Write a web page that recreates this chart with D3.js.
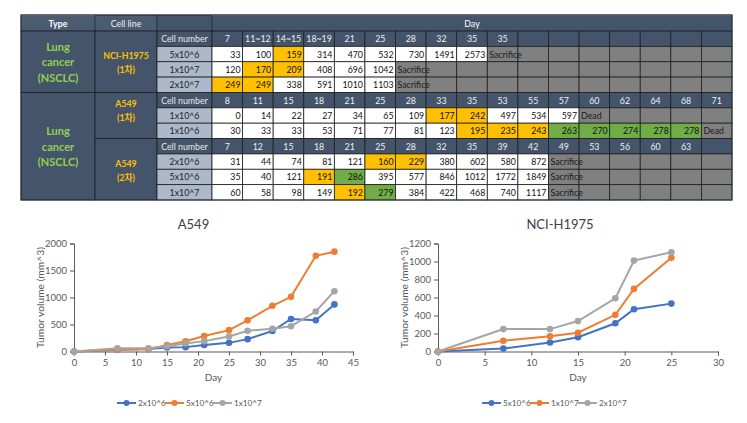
<!DOCTYPE html>
<html><head><meta charset="utf-8">
<script src="https://cdn.jsdelivr.net/npm/d3@7"></script>
<style>
body{margin:0;background:#fff;}
svg{display:block;font-family:Lato,"Open Sans","Noto Sans CJK KR",sans-serif;}
</style></head>
<body><svg id="c" width="747" height="423"></svg>
<script>
// ---------- TABLE DATA ----------
const typeLabel = ["Lung", "cancer", "(NSCLC)"];
const groupNames = [["NCI-H1975", "(1차)"], ["A549", "(1차)"], ["A549", "(2차)"]];
const daysG1 = ["7", "11~12", "14~15", "18~19", "21", "25", "28", "32", "35", "35"];
const daysG2 = ["8", "11", "15", "18", "21", "25", "28", "33", "35", "53", "55", "57", "60", "62", "64", "68", "71"];
const daysG3 = ["7", "12", "15", "18", "21", "25", "28", "32", "35", "39", "42", "49", "53", "56", "60", "63"];
const rowLabelsG1 = ["5x10^6", "1x10^7", "2x10^7"];
const rowLabelsG2 = ["1x10^6", "1x10^6"];
const rowLabelsG3 = ["2x10^6", "5x10^6", "1x10^7"];
const g1r1 = ["33", "100", "159", "314", "470", "532", "730", "1491", "2573", "Sacrifice"];
const g1r2 = ["120", "170", "209", "408", "696", "1042", "Sacrifice"];
const g1r3 = ["249", "249", "338", "591", "1010", "1103", "Sacrifice"];
const g2r1 = ["0", "14", "22", "27", "34", "65", "109", "177", "242", "497", "534", "597", "Dead"];
const g2r2 = ["30", "33", "33", "53", "71", "77", "81", "123", "195", "235", "243", "263", "270", "274", "278", "278", "Dead"];
const g3r1 = ["31", "44", "74", "81", "121", "160", "229", "380", "602", "580", "872", "Sacrifice"];
const g3r2 = ["35", "40", "121", "191", "286", "395", "577", "846", "1012", "1772", "1849", "Sacrifice"];
const g3r3 = ["60", "58", "98", "149", "192", "279", "384", "422", "468", "740", "1117", "Sacrifice"];
// highlight codes: o = orange, g = green
const hl = {
  g1r1: {2: "o"}, g1r2: {1: "o", 2: "o"}, g1r3: {0: "o", 1: "o"},
  g2r1: {7: "o", 8: "o"}, g2r2: {8: "o", 9: "o", 10: "o", 11: "g", 12: "g", 13: "g", 14: "g", 15: "g"},
  g3r1: {5: "o", 6: "o"}, g3r2: {3: "o", 4: "g"}, g3r3: {4: "o", 5: "g"}
};

// ---------- CHART DATA ----------
const a549Days = [0, 7, 12, 15, 18, 21, 25, 28, 32, 35, 39, 42];
const a549Names = ["2x10^6", "5x10^6", "1x10^7"];
const a549S1 = [0, 31, 44, 74, 81, 121, 160, 229, 380, 602, 580, 872];
const a549S2 = [0, 35, 40, 121, 191, 286, 395, 577, 846, 1012, 1772, 1849];
const a549S3 = [0, 60, 58, 98, 149, 192, 279, 384, 422, 468, 740, 1117];
const h1975Days = [0, 7, 12, 15, 19, 21, 25];
const h1975Names = ["5x10^6", "1x10^7", "2x10^7"];
const h1975S1 = [0, 33, 100, 159, 314, 470, 532];
const h1975S2 = [0, 120, 170, 209, 408, 696, 1042];
const h1975S3 = [0, 249, 249, 338, 591, 1010, 1103];
const a549XTicks = [0, 5, 10, 15, 20, 25, 30, 35, 40, 45];
const a549YTicks = [0, 500, 1000, 1500, 2000];
const h1975XTicks = [0, 5, 10, 15, 20, 25, 30];
const h1975YTicks = [0, 200, 400, 600, 800, 1000, 1200];

const svg = d3.select("#c");
const DARK = "#44546A", LIGHT = "#ADB9CA", ORANGE = "#FFC000", GREEN = "#70AD47", GRAY = "#808080", LINE = "#1e1e1e";

// ---------- TABLE ----------
const NDAY = 17;
const dayX = d3.scaleBand().domain(d3.range(NDAY)).range([212, 732]);
const rowY = d3.scaleBand().domain(d3.range(11)).range([31, 200]);
const headTop = 15;
const T = svg.append("g").attr("class", "table");
const fs = 8.8;

function rect(x, y, w, h, fill, stroke) {
  T.append("rect").attr("x", x).attr("y", y).attr("width", w).attr("height", h)
    .attr("fill", fill).attr("stroke", stroke || LINE).attr("stroke-width", 0.8);
}
function txt(x, y, s, opts) {
  opts = opts || {};
  T.append("text").attr("x", x).attr("y", y).text(s)
    .attr("text-anchor", opts.anchor || "middle").attr("dominant-baseline", "central")
    .attr("font-size", opts.size || fs).attr("font-weight", opts.weight || "normal")
    .attr("fill", opts.fill || "#111");
}
// header row
rect(21, headTop, 74, rowY(0) - headTop, "#4B5B71", "#2a3442");
rect(95, headTop, 62, rowY(0) - headTop, "#4B5B71", "#2a3442");
rect(157, headTop, 55, rowY(0) - headTop, DARK, "#2a3442");
rect(212, headTop, 732 - 212, rowY(0) - headTop, DARK, "#2a3442");
T.append("line").attr("x1", 21).attr("x2", 95).attr("y1", headTop).attr("y2", headTop).attr("stroke", "#9aa6b6").attr("stroke-width", 1.5);
T.append("line").attr("x1", 212).attr("x2", 732).attr("y1", headTop).attr("y2", headTop).attr("stroke", "#8c99ab").attr("stroke-width", 1.5);
const hy = (headTop + rowY(0)) / 2;
txt(58, hy, "Type", {fill: "#fff", weight: "bold"});
txt(126, hy, "Cell line", {fill: "#f2f2f2"});
txt(472, hy, "Day", {fill: "#fff"});

const groups = [
  {start: 0, days: daysG1, labels: rowLabelsG1, rows: [g1r1, g1r2, g1r3], keys: ["g1r1", "g1r2", "g1r3"]},
  {start: 4, days: daysG2, labels: rowLabelsG2, rows: [g2r1, g2r2], keys: ["g2r1", "g2r2"]},
  {start: 7, days: daysG3, labels: rowLabelsG3, rows: [g3r1, g3r2, g3r3], keys: ["g3r1", "g3r2", "g3r3"]}
];
const rh = rowY.bandwidth();
// Type cells
[[0, 4], [4, 11]].forEach(([a, b]) => {
  const y0 = rowY(a), y1 = b < 11 ? rowY(b) : 200;
  rect(21, y0, 74, y1 - y0, DARK);
  const cy = (y0 + y1) / 2;
  typeLabel.forEach((s, i) => txt(58, cy + (i - 1) * 15.5, s, {fill: "#92D050", weight: "bold", size: 11}));
});
groups.forEach((g, gi) => {
  const nRows = g.rows.length + 1;
  const y0 = rowY(g.start), y1 = y0 + nRows * rh;
  rect(95, y0, 62, y1 - y0, DARK);
  const cy = gi === 1 ? y0 + 18 : (y0 + y1) / 2 + 1;
  groupNames[gi].forEach((s, i) => txt(126, cy + (i - 0.5) * 14, s, {fill: "#FFC000", weight: "bold", size: 8.8}));
  // cell number row
  const yc = rowY(g.start);
  rect(157, yc, 55, rh, DARK);
  txt(184.5, yc + rh / 2, "Cell number", {fill: "#e8e8e8"});
  d3.range(NDAY).forEach(c => {
    rect(dayX(c), yc, dayX.bandwidth(), rh, DARK);
    if (g.days[c] !== undefined) txt(dayX(c) + dayX.bandwidth() / 2, yc + rh / 2, g.days[c], {fill: "#f0f0f0"});
  });
  g.rows.forEach((vals, ri) => {
    const y = rowY(g.start + 1 + ri);
    rect(157, y, 55, rh, LIGHT);
    txt(184.5, y + rh / 2, g.labels[ri], {fill: "#222"});
    const h = hl[g.keys[ri]];
    const endIdx = vals.length - 1; // last is Sacrifice/Dead
    d3.range(NDAY).forEach(c => {
      let fill;
      if (c >= endIdx) fill = GRAY;
      else fill = h[c] === "o" ? ORANGE : h[c] === "g" ? GREEN : "#fff";
      rect(dayX(c), y, dayX.bandwidth(), rh, fill);
    });
    vals.forEach((v, c) => {
      if (c === endIdx) txt(dayX(c) + 2, y + rh / 2, v, {anchor: "start", fill: "#1a1a1a"});
      else txt(dayX(c) + dayX.bandwidth() - 2, y + rh / 2, v, {anchor: "end", fill: "#111"});
    });
  });
});
// outer frame
T.append("rect").attr("x", 21).attr("y", headTop).attr("width", 711).attr("height", 200 - headTop)
  .attr("fill", "none").attr("stroke", "#2a3442").attr("stroke-width", 1);

// ---------- CHARTS ----------
const COLORS = ["#4472C4", "#ED7D31", "#A5A5A5"];
function chart(cfg) {
  const G = svg.append("g");
  const x = d3.scaleLinear().domain([cfg.xTicks[0], cfg.xTicks[cfg.xTicks.length - 1]]).range([cfg.x0, cfg.x1]);
  const y = d3.scaleLinear().domain([cfg.yTicks[0], cfg.yTicks[cfg.yTicks.length - 1]]).range([351.5, 243.5]);
  const ax = G.append("g").attr("transform", `translate(0,${y(0)})`)
    .call(d3.axisBottom(x).tickValues(cfg.xTicks).tickSize(4).tickPadding(4).tickFormat(d3.format("d")));
  const ay = G.append("g").attr("transform", `translate(${cfg.x0},0)`)
    .call(d3.axisLeft(y).tickValues(cfg.yTicks).tickSize(4).tickPadding(3).tickFormat(d3.format("d")));
  [ax, ay].forEach(a => {
    a.select(".domain").attr("stroke", "#595959").attr("stroke-width", 1);
    a.selectAll(".tick line").attr("stroke", "#595959");
    a.selectAll("text").attr("fill", "#595959").attr("font-size", 9.5).attr("font-family", "Lato,sans-serif");
  });
  const line = d3.line().x((d, i) => x(cfg.days[i])).y(d => y(d));
  cfg.series.forEach((s, k) => {
    G.append("path").attr("d", line(s)).attr("fill", "none").attr("stroke", COLORS[k]).attr("stroke-width", 2);
    G.selectAll(null).data(s).enter().append("circle")
      .attr("cx", (d, i) => x(cfg.days[i])).attr("cy", d => y(d)).attr("r", 3.3).attr("fill", COLORS[k]);
  });
  const cx = (cfg.x0 + cfg.x1) / 2;
  G.append("text").attr("x", cx + cfg.titleShift).attr("y", 229).attr("text-anchor", "middle")
    .attr("font-size", 13).attr("fill", "#404040").text(cfg.title);
  G.append("text").attr("x", cx).attr("y", 381).attr("text-anchor", "middle")
    .attr("font-size", 10).attr("fill", "#595959").text("Day");
  G.append("text").attr("transform", `translate(${cfg.x0 - 34},${(243.5 + 351.5) / 2}) rotate(-90)`)
    .attr("text-anchor", "middle").attr("dominant-baseline", "central")
    .attr("font-size", 10.3).attr("fill", "#595959").text("Tumor volume (mm^3)");
  // legend
  const lg = G.append("g");
  cfg.names.forEach((n, k) => {
    const lx = cfg.legendX + k * 48;
    lg.append("line").attr("x1", lx).attr("x2", lx + 19).attr("y1", 403).attr("y2", 403)
      .attr("stroke", COLORS[k]).attr("stroke-width", 2);
    lg.append("circle").attr("cx", lx + 9.5).attr("cy", 403).attr("r", 3).attr("fill", COLORS[k]);
    lg.append("text").attr("x", lx + 21).attr("y", 403).attr("dominant-baseline", "central")
      .attr("font-size", 8.2).attr("fill", "#595959").text(n);
  });
}
chart({title: "A549", x0: 74, x1: 353, xTicks: a549XTicks, yTicks: a549YTicks, days: a549Days,
  series: [a549S1, a549S2, a549S3], names: a549Names, legendX: 117, titleShift: -20});
chart({title: "NCI-H1975", x0: 438, x1: 718, xTicks: h1975XTicks, yTicks: h1975YTicks, days: h1975Days,
  series: [h1975S1, h1975S2, h1975S3], names: h1975Names, legendX: 482, titleShift: -18});
</script></body></html>
